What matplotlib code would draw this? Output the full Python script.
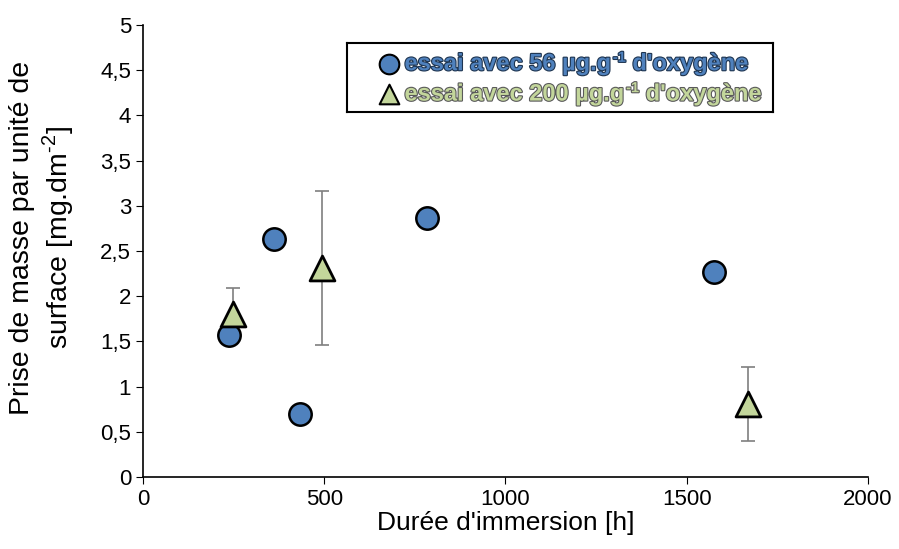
import matplotlib
matplotlib.use('Agg')
import matplotlib.pyplot as plt
import matplotlib.patheffects as pe
from matplotlib.ticker import FuncFormatter

plt.rcParams['font.family'] = ['Liberation Sans', 'DejaVu Sans']
plt.rcParams['mathtext.fontset'] = 'custom'
plt.rcParams['mathtext.rm'] = 'Liberation Sans'

# essai 56 µg/g
t56 = [238, 360, 434, 784, 1576]
m56 = [1.57, 2.63, 0.70, 2.86, 2.27]
# essai 200 µg/g
t200 = [248, 495, 1669]
m200 = [1.80, 2.31, 0.81]
err200 = [0.29, 0.85, 0.41]

blue = '#4f81bd'
green = '#c3d69b'

fig = plt.figure(figsize=(8.99, 5.49), dpi=100)
ax = fig.add_axes([143/899, 1-477/549, 725/899, 452/549])

ax.errorbar(t200, m200, yerr=err200, fmt='none', ecolor='#7f7f7f', elinewidth=1.2,
            capsize=5, capthick=1.2, zorder=2)
ax.scatter(t56, m56, s=260, marker='o', facecolor=blue, edgecolor='black', linewidth=1.8, zorder=3)
ax.scatter(t200, m200, s=320, marker='^', facecolor=green, edgecolor='black', linewidth=2, zorder=4)

ax.set_xlim(0, 2000)
ax.set_ylim(0, 5)
ax.set_xticks([0, 500, 1000, 1500, 2000])
ax.set_yticks([0, 0.5, 1, 1.5, 2, 2.5, 3, 3.5, 4, 4.5, 5])
ax.yaxis.set_major_formatter(FuncFormatter(lambda v, p: ('%g' % v).replace('.', ',')))
ax.tick_params(labelsize=16, direction='out', length=5, color='black')
for s in ['top', 'right']:
    ax.spines[s].set_visible(False)
for s in ['left', 'bottom']:
    ax.spines[s].set_color('black')
    ax.spines[s].set_linewidth(1.2)

ax.set_xlabel("Durée d'immersion [h]", fontsize=19, labelpad=1)
ax.set_ylabel("Prise de masse par unité de\nsurface [mg.dm$^{\\text{-2}}$]", fontsize=20.5)
ax.yaxis.set_label_coords(-0.092, 0.53)

# legend box
lax = fig.add_axes([347/899, 1-112/549, 426/899, 69/549])
lax.set_xticks([])
lax.set_yticks([])
for s in lax.spines.values():
    s.set_linewidth(1.5)
    s.set_color('black')
lax.set_xlim(0, 1)
lax.set_ylim(0, 1)
lax.scatter([0.098], [0.70], s=200, marker='o', facecolor=blue, edgecolor='black', linewidth=1.5)
lax.scatter([0.098], [0.26], s=200, marker='^', facecolor=green, edgecolor='black', linewidth=1.5)


def legend_line(y, dose, col, edge):
    fx = [pe.withStroke(linewidth=1.6, foreground=edge)]
    a = lax.text(0.135, y, "essai avec %s µg.g" % dose, fontsize=17, fontweight='bold',
                 color=col, va='center', ha='left', path_effects=fx)
    b = lax.annotate("-1", xy=(1, 0.45), xycoords=a, xytext=(1, 0), textcoords='offset points',
                     fontsize=10.5, fontweight='bold', color=col, va='bottom', ha='left',
                     path_effects=fx)
    lax.annotate(" d'oxygène", xy=(1, 0), xycoords=(b, a), fontsize=17, fontweight='bold',
                 color=col, va='bottom', ha='left', path_effects=fx)


legend_line(0.70, '56', blue, '#1f3550')
legend_line(0.26, '200', green, '#5a5a5a')

fig.savefig('out.png', dpi=100)
